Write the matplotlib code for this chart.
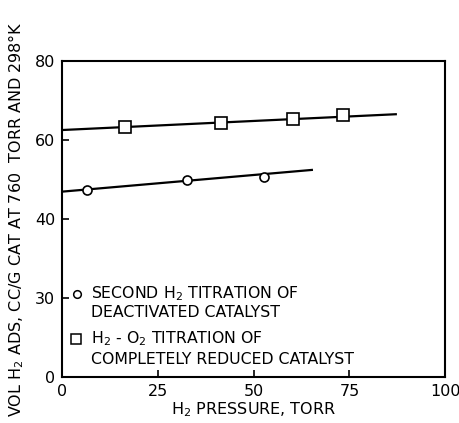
import matplotlib
matplotlib.use("Agg")
import matplotlib.pyplot as plt

# Data
sq_x = [16.4, 41.6, 60.3, 73.4]
sq_y = [63.2, 64.4, 65.2, 66.3]
sq_fit_x = [0, 87.1]
sq_fit_y = [62.5, 66.5]

ci_x = [6.6, 32.6, 52.6]
ci_y = [47.2, 49.9, 50.7]
ci_fit_x = [0, 65.2]
ci_fit_y = [46.9, 52.4]

x_ticks = [0, 25, 50, 75, 100]
x_ticklabels = ["0", "25", "50", "75", "100"]
y_ticks = [0, 20, 40, 60, 80]
y_ticklabels = ["0", "30", "40", "60", "80"]

plt.rcParams['font.family'] = ['DejaVu Sans']
fig = plt.figure(figsize=(4.59, 4.23), dpi=100)
ax = fig.add_axes([0.135, 0.109, 0.835, 0.747])

ax.plot(sq_fit_x, sq_fit_y, color='black', lw=1.6, zorder=2)
ax.plot(sq_x, sq_y, ls='none', marker='s', ms=8, mfc='white', mec='black', mew=1.2, zorder=3)
ax.plot(ci_fit_x, ci_fit_y, color='black', lw=1.6, zorder=2)
ax.plot(ci_x, ci_y, ls='none', marker='o', ms=6.5, mfc='white', mec='black', mew=1.2, zorder=3)

ax.set_xlim(0, 100)
ax.set_ylim(0, 80)
ax.set_xticks(x_ticks)
ax.set_xticklabels(x_ticklabels)
ax.set_yticks(y_ticks)
ax.set_yticklabels(y_ticklabels)
ax.tick_params(direction='in', length=5, width=1.2, labelsize=11.5, pad=5)
for s in ax.spines.values():
    s.set_linewidth(1.5)

ax.set_xlabel("H$_2$ PRESSURE, TORR", fontsize=11.5, labelpad=1)
ax.set_ylabel("VOL H$_2$ ADS, CC/G CAT AT 760  TORR AND 298°K", fontsize=11.5, labelpad=6)

# legend drawn inside axes
fs = 11.3
ax.plot([0.039], [0.263], transform=ax.transAxes, marker='o', ms=5.5, mfc='white',
        mec='black', mew=1.1, ls='none', clip_on=False)
ax.text(0.075, 0.263, "SECOND H$_2$ TITRATION OF", transform=ax.transAxes, fontsize=fs, va='center')
ax.text(0.075, 0.203, "DEACTIVATED CATALYST", transform=ax.transAxes, fontsize=fs, va='center')
ax.plot([0.037], [0.120], transform=ax.transAxes, marker='s', ms=7, mfc='white',
        mec='black', mew=1.1, ls='none', clip_on=False)
ax.text(0.075, 0.120, "H$_2$ - O$_2$ TITRATION OF", transform=ax.transAxes, fontsize=fs, va='center')
ax.text(0.075, 0.054, "COMPLETELY REDUCED CATALYST", transform=ax.transAxes, fontsize=fs, va='center')

fig.savefig("out.png", dpi=100)
